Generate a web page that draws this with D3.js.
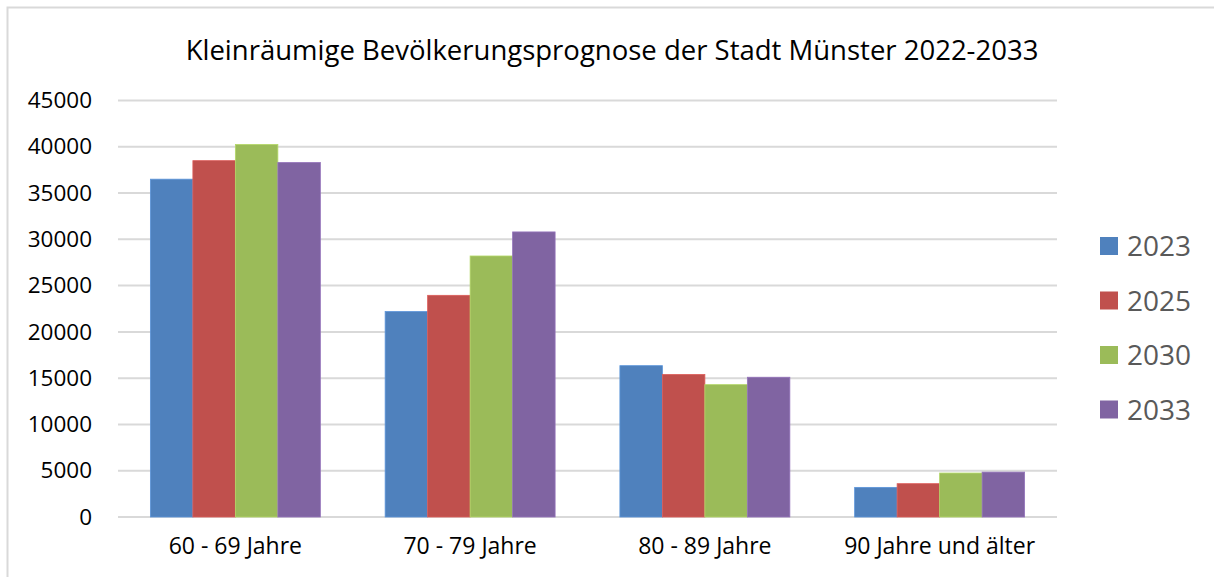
<!DOCTYPE html>
<meta charset="utf-8">
<head>
<script src="https://cdnjs.cloudflare.com/ajax/libs/d3/7.8.5/d3.min.js"></script>
<style>
body { margin: 0; background: #fff; }
text { font-family: "Open Sans", "Noto Sans", sans-serif; }
</style>
</head>
<body>
<div id="chart"></div>
<script>

// values
var categories = ['60 - 69 Jahre', '70 - 79 Jahre', '80 - 89 Jahre', '90 Jahre und älter'];
var years = ['2023', '2025', '2030', '2033'];
var v2023 = [36500, 22200, 16350, 3200];
var v2025 = [38500, 23950, 15400, 3600];
var v2030 = [40250, 28200, 14300, 4750];
var v2033 = [38300, 30800, 15100, 4850];
var yTicks = [0, 5000, 10000, 15000, 20000, 25000, 30000, 35000, 40000, 45000];
var colors = ['#4F81BD', '#C0504D', '#9BBB59', '#8064A2'];

var series = [v2023, v2025, v2030, v2033];

var width = 1214, height = 577;
var plotLeft = 118, plotRight = 1057, plotTop = 100.5, plotBottom = 517;

var svg = d3.select('#chart').append('svg')
    .attr('width', width)
    .attr('height', height);

// outer chart border
svg.append('path')
    .attr('d', 'M7.5,' + height + 'V7.5H' + width)
    .attr('fill', 'none')
    .attr('stroke', '#d9d9d9')
    .attr('stroke-width', 2);

var x0 = d3.scaleBand().domain(categories).range([plotLeft, plotRight]).paddingInner(0.276).paddingOuter(0.138);
var x1 = d3.scaleBand().domain(years).range([0, x0.bandwidth()]);
var y = d3.scaleLinear().domain([0, 45000]).range([plotBottom, plotTop]);

// gridlines
svg.append('g').selectAll('line')
    .data(yTicks)
    .enter().append('line')
    .attr('x1', plotLeft).attr('x2', plotRight)
    .attr('y1', function(d){ return y(d); })
    .attr('y2', function(d){ return y(d); })
    .attr('stroke', '#d9d9d9')
    .attr('stroke-width', 2);

// y labels
var yAxis = svg.append('g')
    .attr('transform', 'translate(92,0)')
    .call(d3.axisLeft(y).tickValues(yTicks).tickSize(0).tickPadding(0).tickFormat(d3.format('d')));
yAxis.select('.domain').remove();
yAxis.selectAll('text')
    .attr('font-size', 22.5)
    .attr('fill', '#000')
    .attr('font-family', '"Open Sans", sans-serif');

// bars
var groups = svg.append('g').selectAll('g')
    .data(categories)
    .enter().append('g')
    .attr('transform', function(d){ return 'translate(' + x0(d) + ',0)'; });

groups.selectAll('rect')
    .data(function(d, i){
      return years.map(function(yr, j){ return {year: yr, value: series[j][i], c: colors[j]}; });
    })
    .enter().append('rect')
    .attr('x', function(d){ return x1(d.year); })
    .attr('width', x1.bandwidth())
    .attr('y', function(d){ return y(d.value); })
    .attr('height', function(d){ return plotBottom - y(d.value); })
    .attr('fill', function(d){ return d.c; })
    .attr('stroke', function(d){ return d3.color(d.c).brighter(0.4); })
    .attr('stroke-width', 0.8);

// x labels
var xAxis = svg.append('g')
    .attr('transform', 'translate(0,' + plotBottom + ')')
    .call(d3.axisBottom(x0).tickSize(0).tickPadding(21));
xAxis.select('.domain').remove();
xAxis.selectAll('text')
    .attr('font-size', 23)
    .attr('fill', '#000')
    .attr('font-family', '"Open Sans", sans-serif');

// title
svg.append('text')
    .attr('x', 612)
    .attr('y', 60)
    .attr('text-anchor', 'middle')
    .attr('font-size', 27.5)
    .attr('fill', '#000')
    .text('Kleinräumige Bevölkerungsprognose der Stadt Münster 2022-2033');

// legend
var legend = svg.append('g').selectAll('g')
    .data(years)
    .enter().append('g')
    .attr('transform', function(d, i){ return 'translate(1100,' + (237 + i * 54.5) + ')'; });
legend.append('rect')
    .attr('width', 18).attr('height', 18)
    .attr('fill', function(d, i){ return colors[i]; });
legend.append('text')
    .attr('x', 27)
    .attr('y', 19)
    .attr('font-size', 28)
    .attr('fill', '#595959')
    .text(function(d){ return d; });

</script>
</body>
